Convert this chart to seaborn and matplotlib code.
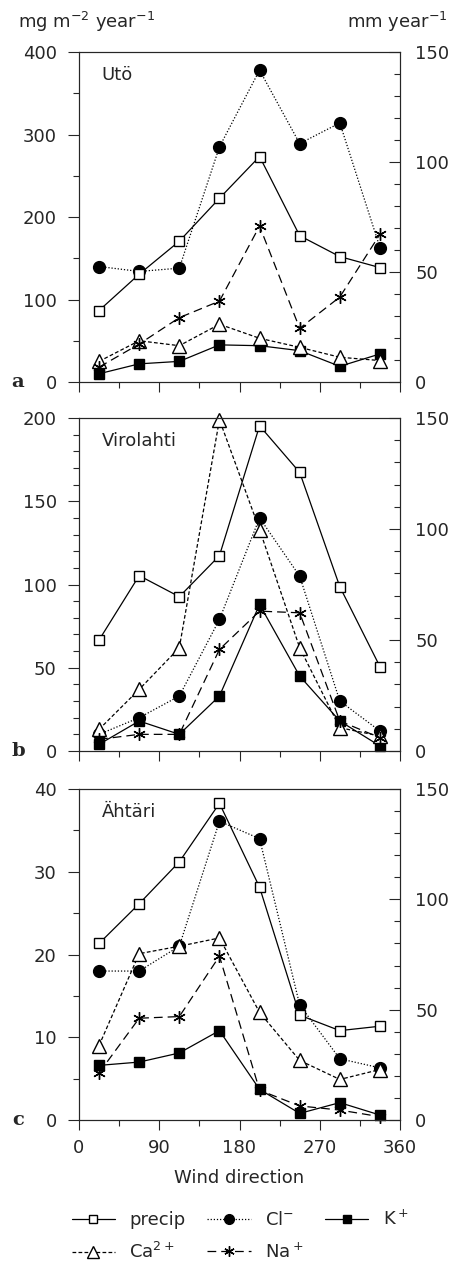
import numpy as np
import pandas as pd
import seaborn as sns
from matplotlib import pyplot as plt
from matplotlib.ticker import MultipleLocator
from matplotlib.lines import Line2D

sns.set_style("ticks")
plt.rcParams['font.family'] = ['DejaVu Sans']

# wind direction sectors (degrees)
direction = [22.5, 67.5, 112.5, 157.5, 202.5, 247.5, 292.5, 337.5]

# Uto
uto_precip = [32.5, 49, 64, 83.5, 102.5, 66.5, 57, 52]
uto_cl = [140, 134, 138, 285, 378, 289, 314, 163]
uto_k = [10, 22, 25, 45, 44, 38, 19, 34]
uto_ca = [25, 50, 44, 70, 53, 42, 30, 26]
uto_na = [18, 46, 78, 98, 189, 65, 103, 179]

# Virolahti
vir_precip = [50, 79, 69.5, 88, 146.5, 125.5, 74, 38]
vir_cl = [10, 20, 33, 79, 140, 105, 30, 12]
vir_k = [4, 18, 10, 33, 88, 45, 18, 3]
vir_ca = [13, 37, 62, 199, 133, 62, 14, 9]
vir_na = [7, 10, 10, 61, 84, 83, 18, 8]

# Ahtari
aht_precip = [80, 98, 117, 143.5, 105.5, 47.5, 40.5, 42.5]
aht_cl = [18, 18, 21, 36.1, 34, 13.9, 7.4, 6.3]
aht_k = [6.6, 7.0, 8.1, 10.8, 3.7, 0.8, 2.1, 0.6]
aht_ca = [9, 20.1, 21, 22, 13, 7.2, 4.9, 6.1]
aht_na = [5.7, 12.3, 12.5, 19.8, 3.6, 1.7, 1.2, 0.4]

stations = ["Utö", "Virolahti", "Ähtäri"]
panel_letters = ["a", "b", "c"]
left_max = [400, 200, 40]
left_major = [100, 50, 10]
left_minor = [50, 10, 5]

panels = [
    (uto_precip, uto_cl, uto_k, uto_ca, uto_na),
    (vir_precip, vir_cl, vir_k, vir_ca, vir_na),
    (aht_precip, aht_cl, aht_k, aht_ca, aht_na),
]

W, H = 458, 1276
fig = plt.figure(figsize=(W / 100, H / 100), dpi=100)

# axes boxes in pixels: (top, bottom)
boxes = [(52, 382), (418, 751), (789, 1120)]
x0, x1 = 79, 400

styles = {
    "precip": dict(marker='s', markerfacecolor='white', markersize=7.5, linestyle='-'),
    "Cl": dict(marker='o', markerfacecolor='black', markersize=8.5, linestyle=(0, (1, 1.5))),
    "K": dict(marker='s', markerfacecolor='black', markersize=7.5, linestyle='-'),
    "Ca": dict(marker='^', markerfacecolor='white', markersize=9.5, linestyle=(0, (3, 1.8))),
    "Na": dict(marker=(6, 2, 0), markerfacecolor='black', markersize=9, linestyle=(0, (7, 4))),
}

fs = 13
for i, (top, bot) in enumerate(boxes):
    ax = fig.add_axes([x0 / W, 1 - bot / H, (x1 - x0) / W, (bot - top) / H])
    axr = ax.twinx()
    precip, cl, k, ca, na = panels[i]
    for name, vals in [("Cl", cl), ("K", k), ("Ca", ca), ("Na", na)]:
        st = styles[name]
        sns.lineplot(x=direction, y=vals, ax=ax, color='black', linewidth=0.9,
                     markeredgecolor='black', markeredgewidth=1.0, clip_on=False,
                     **st)
    st = styles["precip"]
    sns.lineplot(x=direction, y=precip, ax=axr, color='black', linewidth=0.9,
                 markeredgecolor='black', markeredgewidth=1.0, clip_on=False, **st)

    ax.set_xlim(0, 360)
    ax.set_ylim(0, left_max[i])
    axr.set_ylim(0, 150)
    ax.yaxis.set_major_locator(MultipleLocator(left_major[i]))
    ax.yaxis.set_minor_locator(MultipleLocator(left_minor[i]))
    axr.yaxis.set_major_locator(MultipleLocator(50))
    axr.yaxis.set_minor_locator(MultipleLocator(10))
    ax.xaxis.set_major_locator(MultipleLocator(90))
    ax.xaxis.set_minor_locator(MultipleLocator(45))
    ax.tick_params(axis='y', which='major', direction='out', length=8, width=0.8, labelsize=fs, pad=8)
    ax.tick_params(axis='y', which='minor', direction='out', length=4.5, width=0.8)
    ax.tick_params(axis='x', which='major', direction='out', length=7, width=0.8, labelsize=fs, pad=7)
    ax.tick_params(axis='x', which='minor', direction='out', length=4, width=0.8)
    axr.tick_params(axis='y', which='major', direction='in', length=8, width=0.8, labelsize=fs, pad=11)
    axr.tick_params(axis='y', which='minor', direction='in', length=4.5, width=0.8)
    if i < 2:
        ax.set_xticklabels([])
    ax.set_xlabel("")
    ax.set_ylabel("")
    axr.set_ylabel("")
    for a in (ax, axr):
        for sp in a.spines.values():
            sp.set_linewidth(0.8)
            sp.set_visible(True)
        if a.get_legend() is not None:
            a.get_legend().remove()
    ax.text(0.07, 0.93, stations[i], transform=ax.transAxes, fontsize=fs,
            ha='left', va='center')
    ax.text(-0.19, 0.0, panel_letters[i], transform=ax.transAxes, fontsize=14,
            fontweight='bold', family='DejaVu Serif', ha='center', va='center')
    if i == 2:
        ax.set_xlabel("Wind direction", fontsize=fs, labelpad=8)

fig.text(18 / W, 1 - 22 / H, "mg m$^{-2}$ year$^{-1}$", fontsize=fs, ha='left', va='center')
fig.text(448 / W, 1 - 22 / H, "mm year$^{-1}$", fontsize=fs, ha='right', va='center')

# legend
lab = {"precip": "precip", "Cl": "Cl$^{-}$", "K": "K$^+$", "Ca": "Ca$^{2+}$", "Na": "Na$^+$"}
handles = {}
for name in ["precip", "Cl", "K", "Ca", "Na"]:
    st = dict(styles[name])
    st["markersize"] = st["markersize"] - 1.5
    handles[name] = Line2D([], [], color='black', linewidth=0.9, markeredgecolor='black', **st)
order = ["precip", "Ca", "Cl", "Na", "K"]
fig.legend([handles[n] for n in order], [lab[n] for n in order], ncol=3,
           loc='center', bbox_to_anchor=(240 / W, 1 - 1236 / H), frameon=False,
           fontsize=fs, handlelength=2.4, columnspacing=1.2, labelspacing=0.75,
           handletextpad=0.8)

fig.savefig("out.png", dpi=100)
